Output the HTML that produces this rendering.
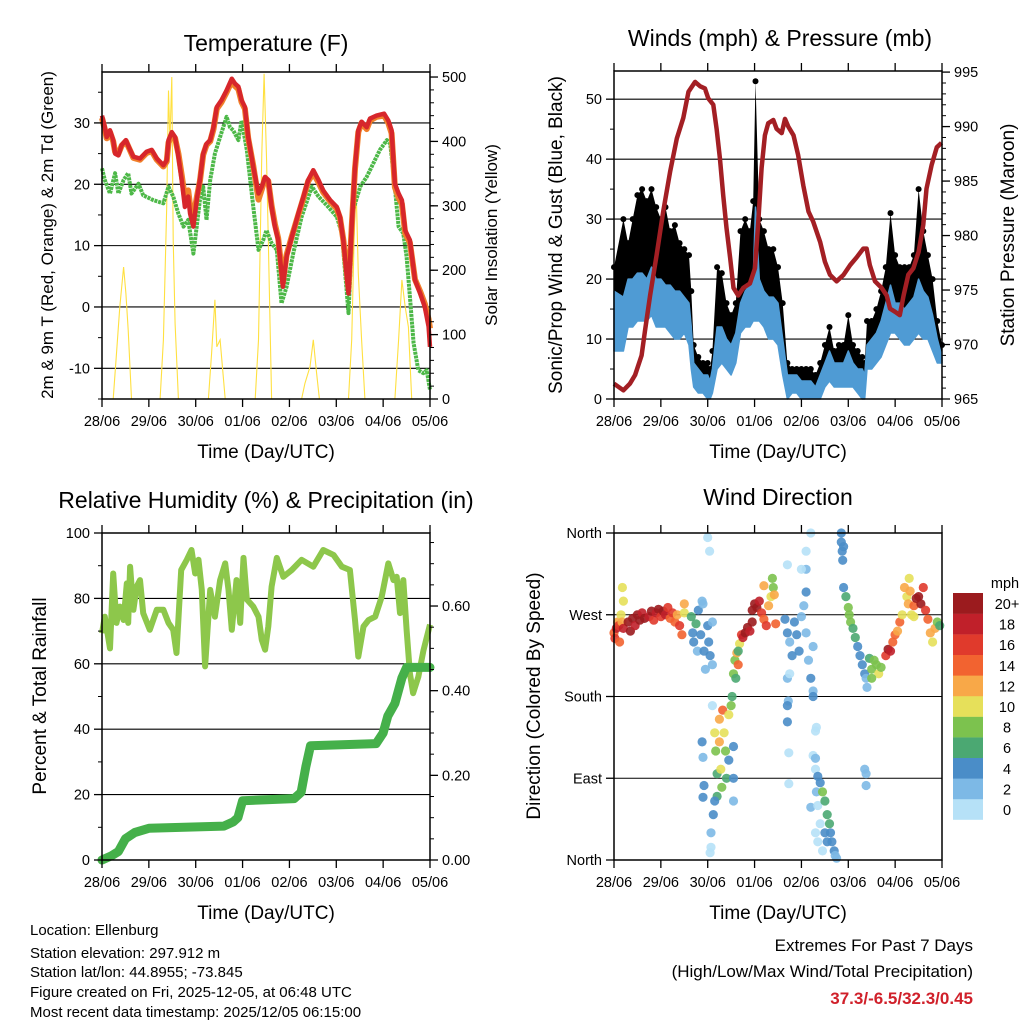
<!DOCTYPE html>
<html><head><meta charset="utf-8"><style>
html,body{margin:0;padding:0;background:#fff;}
svg{display:block;font-family:"Liberation Sans",Arial,sans-serif;}
</style></head><body>
<svg id="chart" width="1024" height="1024" viewBox="0 0 1024 1024" xmlns="http://www.w3.org/2000/svg">
<rect x="0" y="0" width="1024" height="1024" fill="#fff"/>
<g id="g1"></g>
<g id="g2"></g>
<g id="g3"></g>
<g id="g4"></g>
<text x="266" y="51" font-size="23" text-anchor="middle">Temperature (F)</text>
<text x="780" y="46" font-size="23" text-anchor="middle">Winds (mph) &amp; Pressure (mb)</text>
<text x="266" y="508" font-size="23" text-anchor="middle">Relative Humidity (%) &amp; Precipitation (in)</text>
<text x="778" y="505" font-size="23" text-anchor="middle">Wind Direction</text>
<text x="266" y="458" font-size="19" text-anchor="middle">Time (Day/UTC)</text>
<text x="778" y="458" font-size="19" text-anchor="middle">Time (Day/UTC)</text>
<text x="266" y="919" font-size="19" text-anchor="middle">Time (Day/UTC)</text>
<text x="778" y="919" font-size="19" text-anchor="middle">Time (Day/UTC)</text>
<text transform="translate(53,235) rotate(-90)" font-size="17" text-anchor="middle">2m &amp; 9m T (Red, Orange) &amp; 2m Td (Green)</text>
<text transform="translate(497,235) rotate(-90)" font-size="17" text-anchor="middle">Solar Insolation (Yellow)</text>
<text transform="translate(562,235) rotate(-90)" font-size="19" text-anchor="middle">Sonic/Prop Wind &amp; Gust (Blue, Black)</text>
<text transform="translate(1014,235) rotate(-90)" font-size="19" text-anchor="middle">Station Pressure (Maroon)</text>
<text transform="translate(46,696) rotate(-90)" font-size="19" text-anchor="middle">Percent &amp; Total Rainfall</text>
<text transform="translate(540,696) rotate(-90)" font-size="19" text-anchor="middle">Direction (Colored By Speed)</text>
<g font-size="15">
<text x="30" y="935">Location: Ellenburg</text>
<text x="30" y="958">Station elevation: 297.912 m</text>
<text x="30" y="977">Station lat/lon: 44.8955; -73.845</text>
<text x="30" y="997">Figure created on Fri, 2025-12-05, at 06:48 UTC</text>
<text x="30" y="1017">Most recent data timestamp: 2025/12/05 06:15:00</text>
</g>
<text x="973" y="951" font-size="17" text-anchor="end">Extremes For Past 7 Days</text>
<text x="973" y="977" font-size="17" text-anchor="end">(High/Low/Max Wind/Total Precipitation)</text>
<text x="973" y="1004" font-size="17" font-weight="bold" fill="#D0202A" text-anchor="end">37.3/-6.5/32.3/0.45</text>
</svg>
<script>
// ---------- DATA ----------
const dayLabels = ['28/06','29/06','30/06','01/06','02/06','03/06','04/06','05/06'];
const tempDays = [0,0.06,0.1,0.17,0.24,0.28,0.35,0.42,0.51,0.6,0.67,0.81,0.95,1.06,1.17,1.31,1.38,1.42,1.49,1.56,1.63,1.7,1.77,1.84,1.88,1.95,2.02,2.09,2.16,2.23,2.31,2.38,2.45,2.55,2.66,2.77,2.84,2.91,2.98,3.05,3.12,3.23,3.34,3.41,3.48,3.55,3.62,3.69,3.76,3.86,3.94,4.05,4.19,4.3,4.4,4.51,4.62,4.72,4.87,5.01,5.08,5.15,5.26,5.33,5.4,5.47,5.54,5.65,5.72,5.86,6.02,6.11,6.18,6.25,6.33,6.4,6.47,6.57,6.68,6.79,6.89,6.97,7.0];
const temp2m = [31.2,29.3,27.7,28.8,27.2,25.0,24.7,26.4,27.2,25.6,24.5,24.2,25.3,25.6,24.2,23.1,23.9,27.2,28.5,27.7,24.5,20.7,16.3,18.0,15.2,13.1,17.4,20.7,25.0,26.6,27.2,29.3,32.6,33.7,35.3,37.2,36.4,35.9,33.7,32.6,27.7,22.8,18.5,19.6,21.2,20.7,16.3,13.1,10.9,3.3,8.2,11.4,15.2,18.0,20.7,22.3,20.7,19.0,17.4,16.3,14.7,10.9,2.2,13.1,22.8,28.8,30.2,29.3,30.7,31.2,31.5,30.4,28.8,20.1,18.5,17.4,12.5,10.9,4.4,2.2,0.0,-3.2,-6.5];
const temp9m = [30.8,29.0,27.5,28.5,27.0,25.3,25.0,26.3,27.0,25.5,24.3,24.0,25.1,25.4,24.0,22.9,23.7,26.8,28.0,27.5,25.0,21.5,17.8,19.0,16.5,14.5,17.8,20.5,24.8,26.4,27.0,29.0,32.3,33.4,35.0,36.8,36.0,35.5,33.4,32.3,27.5,23.0,17.5,19.2,21.0,20.5,16.5,13.5,11.2,4.0,8.5,11.5,15.0,17.8,20.5,21.8,20.3,18.7,17.2,16.0,14.5,11.0,3.0,13.0,22.5,28.5,30.0,29.0,30.4,31.0,31.2,30.0,28.3,19.5,17.8,16.8,12.0,10.5,4.5,2.5,0.5,-2.0,-3.5];
const dewDays = [0,0.06,0.17,0.28,0.35,0.46,0.56,0.63,0.78,0.88,1.1,1.31,1.42,1.52,1.63,1.74,1.84,1.95,2.02,2.09,2.16,2.23,2.31,2.41,2.52,2.66,2.73,2.8,2.91,2.98,3.09,3.23,3.34,3.44,3.51,3.62,3.73,3.83,3.94,4.08,4.26,4.48,4.62,4.83,5.01,5.12,5.19,5.26,5.36,5.51,5.65,5.79,5.93,6.08,6.15,6.22,6.33,6.43,6.5,6.57,6.65,6.75,6.86,6.93,7.0];
const dew2m = [22.6,20.7,18.5,21.8,18.5,20.7,21.8,18.5,20.1,18.2,17.4,16.9,19.6,18.0,15.2,13.1,14.2,8.7,13.1,17.4,19.6,14.2,20.7,25.0,27.7,31.0,29.3,28.8,27.2,30.4,25.6,16.3,9.3,10.9,12.5,10.4,9.3,0.6,3.3,8.7,14.7,19.6,18.0,16.3,14.7,12.0,5.5,-1.0,15.8,19.6,21.2,23.4,25.6,27.2,26.6,21.8,13.1,12.0,8.2,1.7,-5.9,-10.3,-10.8,-10.3,-13.5];
const solarDays = [0,0.24,0.31,0.38,0.46,0.51,0.56,0.63,1.24,1.31,1.38,1.42,1.45,1.49,1.52,1.56,1.63,2.27,2.34,2.41,2.45,2.52,2.63,3.27,3.34,3.41,3.46,3.51,3.55,3.62,4.26,4.33,4.44,4.51,4.58,4.64,5.26,5.33,5.38,5.42,5.47,5.54,5.61,6.25,6.33,6.4,6.47,6.54,6.61,7.0];
const solarVals = [0,0,71,143,205,164,107,0,0,92,298,479,400,500,247,117,0,0,71,154,81,92,0,0,92,381,505,375,247,0,0,24,50,92,40,0,0,92,247,335,195,92,0,0,92,185,143,112,0,0];
const windDays = [0,0.2,0.3,0.4,0.5,0.6,0.7,0.8,0.9,1.0,1.1,1.2,1.3,1.4,1.5,1.6,1.65,1.7,1.8,1.9,2.0,2.05,2.1,2.2,2.3,2.4,2.5,2.6,2.7,2.8,2.9,2.97,3.02,3.1,3.2,3.3,3.4,3.5,3.6,3.7,3.8,3.9,4.0,4.1,4.2,4.3,4.4,4.5,4.6,4.7,4.8,4.9,5.0,5.1,5.2,5.3,5.35,5.4,5.5,5.6,5.7,5.8,5.9,6.0,6.1,6.2,6.3,6.4,6.5,6.6,6.7,6.8,6.9,7.0];
const gustVals = [22,30,26,30,34,35,33,35,32,30,32,28,29,26,25,24,18,9,7,6,6,5,8,22,21,16,14,16,28,30,28,33,53,30,28,25,25,22,16,6,5,5,5,5,5,4,6,9,12,8,9,9,14,9,8,7,6,13,13,15,18,22,31,24,22,22,22,24,35,28,24,20,13,9];
const windHigh = [18,17,20,20,21,21,20,22,20,20,19,19,18,18,17,16,12,6,5,4,4,3,5,12,12,10,9,11,16,18,19,20,32,20,18,17,17,16,10,4,4,4,3,3,3,2,4,6,8,6,6,6,8,6,5,5,4,9,10,11,13,16,19,16,16,15,16,17,20,18,17,14,10,7];
const windLow = [8,8,12,12,13,13,13,14,12,12,12,11,10,10,11,9,5,2,1,1,0,0,1,5,6,5,4,6,11,12,12,13,13,13,12,10,10,9,4,0,1,1,0,0,0,0,0,2,3,2,2,2,2,2,1,0,0,5,5,6,7,9,11,11,10,9,9,10,11,10,10,8,6,6];
const presDays = [0,0.2,0.34,0.45,0.59,0.66,0.77,0.91,1.05,1.2,1.34,1.48,1.59,1.73,1.84,1.94,2.01,2.12,2.19,2.26,2.33,2.4,2.48,2.55,2.65,2.76,2.9,3.01,3.08,3.15,3.22,3.29,3.4,3.47,3.58,3.65,3.72,3.83,3.93,4.04,4.15,4.25,4.4,4.5,4.61,4.75,4.9,5.04,5.18,5.32,5.39,5.46,5.57,5.71,5.82,5.89,6.0,6.1,6.18,6.28,6.39,6.5,6.6,6.67,6.78,6.89,6.99];
const presVals = [966.4,965.8,966.4,967.2,969.0,971.2,974.5,978.2,982.2,985.9,988.9,990.8,993.2,994.1,993.7,993.5,992.6,992.0,989.8,987.1,983.7,980.7,977.9,975.2,974.5,975.2,975.6,977.0,981.3,986.2,989.2,990.3,990.6,989.8,989.4,990.7,990.0,989.2,987.4,984.6,982.2,981.3,979.4,977.6,976.4,975.8,976.4,977.3,978.0,978.8,978.8,977.3,975.8,975.2,974.5,973.3,973.0,972.7,974.5,976.4,977.0,978.5,981.0,984.3,986.5,988.1,988.5];
const rhDays = [0,0.06,0.17,0.24,0.31,0.38,0.46,0.53,0.56,0.6,0.67,0.74,0.81,0.88,1.02,1.17,1.31,1.42,1.52,1.59,1.69,1.81,1.91,1.99,2.06,2.13,2.2,2.31,2.41,2.52,2.63,2.7,2.77,2.87,2.95,3.02,3.09,3.23,3.34,3.41,3.48,3.55,3.62,3.73,3.87,4.05,4.26,4.51,4.72,4.94,5.12,5.29,5.4,5.47,5.58,5.69,5.83,5.97,6.11,6.22,6.29,6.36,6.43,6.5,6.57,6.64,6.75,6.86,6.93,7.0];
const rhVals = [69.4,74.4,64.7,87.6,72.5,77.5,73.4,84.6,72.5,89.7,76.5,83.6,85.6,75.5,70.4,76.5,76.5,72.5,70.4,63.3,88.7,91.8,94.8,87.6,91.8,82.6,59.2,82.6,74.4,85.6,90.7,82.6,70.4,85.6,72.5,92.4,79.7,77.5,74.4,67.3,64.3,71.4,83.6,92.4,86.6,88.7,91.8,89.7,94.8,93.3,89.7,88.7,73.4,62.2,71.4,73.4,74.4,80.5,90.7,85.6,86.6,75.5,85.6,70.4,57.1,51,56,64,68,72];
const precipDays = [0,0.2,0.35,0.5,0.7,1.0,2.6,2.8,2.9,3.0,4.1,4.25,4.35,4.45,5.85,6.0,6.1,6.25,6.4,6.5,7.0];
const precipVals = [0,0.01,0.02,0.05,0.065,0.075,0.08,0.09,0.1,0.14,0.145,0.16,0.22,0.27,0.275,0.3,0.34,0.37,0.43,0.455,0.455];
const dirDays = [0,0.02,0.05,0.08,0.1,0.12,0.15,0.17,0.2,0.18,0.2,0.3,0.35,0.4,0.45,0.5,0.55,0.6,0.65,0.75,0.8,0.85,0.9,0.95,1.0,1.05,1.1,1.15,1.2,1.25,1.3,1.35,1.4,1.45,1.5,1.5,
1.65,1.68,1.7,1.75,1.78,1.8,1.85,1.9,1.92,1.95,2.0,2.02,2.05,2.1,2.1,1.88,2.0,2.04,
1.88,1.9,1.92,1.9,2.07,2.07,2.05,2.1,2.15,2.17,2.2,2.2,2.15,2.12,2.25,2.25,2.28,2.3,2.32,2.35,2.38,2.4,2.45,2.45,2.5,2.52,2.55,2.55,2.55,
2.55,2.58,2.62,2.65,2.68,2.72,2.75,2.8,2.85,2.9,2.95,2.6,2.65,
2.95,3.0,3.05,3.1,3.15,3.2,3.25,3.3,3.35,3.38,3.4,3.42,3.45,3.2,
3.65,3.7,3.75,3.8,3.85,3.9,3.95,4.0,4.05,4.1,4.15,4.2,4.25,3.7,3.72,3.75,4.1,4.1,3.7,4.0,4.1,4.2,
3.7,3.7,3.73,3.73,4.25,4.25,4.3,4.32,4.2,
4.25,4.3,4.3,4.35,4.4,4.32,4.35,4.4,4.3,4.35,4.45,4.5,4.55,4.6,4.5,4.62,4.65,4.7,4.72,4.75,4.55,4.45,
4.85,4.85,4.87,4.88,4.9,
4.9,4.95,5.0,5.02,5.05,5.1,5.15,5.2,5.25,5.3,5.35,5.38,5.4,5.45,5.5,5.55,5.6,5.65,5.7,5.5,5.35,5.38,5.38,
5.8,5.85,5.9,5.95,6.0,6.05,6.1,6.15,6.2,6.25,6.28,6.3,6.32,6.35,6.4,6.45,6.5,6.55,6.6,6.65,6.7,6.75,6.8,6.85,6.9,6.95,6.4];
const dirVals = [250,244,255,262,258,240,270,262,255,300,285,262,252,266,258,270,264,272,266,268,274,264,272,276,268,274,270,278,266,272,262,270,258,248,272,282,
268,250,240,260,230,275,248,282,230,210,258,240,225,215,262,285,355,340,
130,113,82,69,30,14,8,170,140,120,95,70,65,50,130,155,100,80,165,140,120,90,160,110,170,180,90,125,65,
205,220,228,215,238,248,245,250,256,252,262,200,230,
275,282,278,285,272,265,258,280,290,310,300,292,260,302,
265,250,240,225,262,248,230,268,280,250,220,200,235,200,175,205,295,320,325,320,340,360,
170,152,118,84,186,180,142,146,58,
115,112,100,92,85,75,60,40,30,20,75,65,50,40,30,30,20,10,5,2,20,10,
360,350,340,330,345,
300,290,278,270,262,255,245,235,225,215,205,200,190,222,210,220,215,205,212,200,100,95,82,
225,232,230,240,248,252,262,270,300,290,282,310,296,270,280,288,290,282,300,275,265,250,240,255,262,258,268];
const dirSpeeds = [14,16,18,12,16,14,10,12,18,10,10,20,20,20,18,20,20,18,20,18,20,16,18,20,16,20,18,16,14,16,14,12,16,14,10,12,
6,4,4,6,2,4,4,2,4,2,4,4,4,2,2,2,0,0,
4,2,4,4,2,0,0,0,10,8,6,6,4,4,12,12,10,8,14,10,8,6,10,4,8,6,4,4,2,
8,8,12,14,10,16,18,20,20,18,20,6,6,
20,20,20,18,16,14,16,12,10,8,8,12,14,12,
4,4,2,4,4,4,4,2,2,2,2,4,2,2,2,0,4,2,0,0,0,0,
4,4,0,0,2,4,0,0,2,
0,2,0,4,4,2,0,0,0,0,8,6,6,6,4,4,4,4,2,2,4,0,
4,4,4,4,4,
4,6,8,8,8,6,6,4,4,4,4,2,2,6,8,8,8,10,8,8,2,2,2,
16,20,18,14,14,12,14,10,12,10,12,10,12,10,14,20,20,20,16,16,14,12,10,12,8,6,10];
const speedLabels = ['0','2','4','6','8','10','12','14','16','18','20+'];
const speedColors = ['#B6E1F7','#7DB9E6','#4A8DC8','#4BA872','#7CC24E','#E6E05A','#F8A848','#F26330','#E03A2C','#C0202A','#9B1B1E'];

// ---------- HELPERS ----------
const NS = 'http://www.w3.org/2000/svg';
function mk(parent, tag, attrs, text){
  const e = document.createElementNS(NS, tag);
  for (const k in attrs) e.setAttribute(k, attrs[k]);
  if (text !== undefined) e.textContent = text;
  parent.appendChild(e);
  return e;
}
function lin(d0,d1,r0,r1){ return v => r0 + (v-d0)*(r1-r0)/(d1-d0); }
function pts(xs, ys, sx, sy){ return xs.map((d,i)=>sx(d).toFixed(1)+','+sy(ys[i]).toFixed(1)).join(' '); }

function frame(g, x0, x1, yT, yB, sx, name){
  for (let i=0;i<8;i++){
    const x = sx(i);
    const t1 = mk(g,'line',{x1:x,x2:x,y1:yB,y2:yB+8,stroke:'#000','stroke-width':1.3});
    
    
    const t2 = mk(g,'line',{x1:x,x2:x,y1:yT,y2:yT-8,stroke:'#000','stroke-width':1.3});
    
    
    const lb = mk(g,'text',{x:x,y:yB+27,'font-size':14.5,'text-anchor':'middle'}, dayLabels[i]);
    
    
  }
  const r = mk(g,'rect',{x:x0,y:yT,width:x1-x0,height:yB-yT,fill:'none',stroke:'#000','stroke-width':1.5});
  
  
}
function yaxis(g, side, x, sy, majors, labels, minors, name){
  const dir = side==='left' ? -1 : 1;
  minors.forEach(v=>{
    const t = mk(g,'line',{x1:x,x2:x+dir*4,y1:sy(v),y2:sy(v),stroke:'#000','stroke-width':1});
    
    
  });
  majors.forEach((v,i)=>{
    const t = mk(g,'line',{x1:x,x2:x+dir*8,y1:sy(v),y2:sy(v),stroke:'#000','stroke-width':1.3});
    
    
    const lb = mk(g,'text',{x:x+dir*12,y:sy(v)+5,'font-size':14.5,'text-anchor':side==='left'?'end':'start'}, labels[i]);
    
    
  });
}
function grid(g, x0, x1, sy, vals, name){
  vals.forEach(v=>{
    const l = mk(g,'line',{x1:x0,x2:x1,y1:sy(v),y2:sy(v),stroke:'#000','stroke-width':1.1});
    
    
  });
}
function range(a,b,s){ const r=[]; for(let v=a; v<=b+1e-9; v+=s) r.push(+v.toFixed(4)); return r; }

// ---------- PANEL 1: TEMPERATURE ----------
(function(){
  const g = document.getElementById('g1');
  const sx = lin(0,7,102,430), sy = lin(-15,38.3,399,72), ss = lin(0,507.8,399,72);
  grid(g,102,430,sy,[-10,0,10,20,30],'temp');
  const sol = mk(g,'polyline',{points:pts(solarDays,solarVals,sx,ss),fill:'none',stroke:'#FFE040','stroke-width':1.1});
  
  
  const dw = mk(g,'polyline',{points:pts(dewDays,dew2m,sx,sy),fill:'none',stroke:'#4DB848','stroke-width':4,'stroke-dasharray':'3 0.8','stroke-linejoin':'round'});
  
  
  const t9 = mk(g,'polyline',{points:pts(tempDays,temp9m,sx,sy),fill:'none',stroke:'#F07F2A','stroke-width':6,'stroke-linejoin':'round'});
  
  
  const t2 = mk(g,'polyline',{points:pts(tempDays,temp2m,sx,sy),fill:'none',stroke:'#D7262B','stroke-width':4.5,'stroke-linejoin':'round'});
  
  
  frame(g,102,430,72,399,sx,'temp');
  yaxis(g,'left',102,sy,[-10,0,10,20,30],['-10','0','10','20','30'],[-15,-5,5,15,25,35],'temp-y');
  yaxis(g,'right',430,ss,[0,100,200,300,400,500],['0','100','200','300','400','500'],range(20,500,20),'solar-y');
})();

// ---------- PANEL 2: WINDS ----------
(function(){
  const g = document.getElementById('g2');
  const sx = lin(0,7,614,942), sy = lin(0,54.7,399,71), sp = lin(965,995.1,399,71);
  grid(g,614,942,sy,[10,20,30,40,50],'wind');
  const gustPoly = pts(windDays,gustVals,sx,sy)+' '+pts(windDays.slice().reverse(),windHigh.slice().reverse(),sx,sy);
  const gp = mk(g,'polygon',{points:gustPoly,fill:'#000',stroke:'none'});
  
  
  windDays.forEach((d,i)=>{
    const c = mk(g,'circle',{cx:sx(d).toFixed(1),cy:sy(gustVals[i]).toFixed(1),r:3,fill:'#000'});
    
    
  });
  const windPoly = pts(windDays,windHigh,sx,sy)+' '+pts(windDays.slice().reverse(),windLow.slice().reverse(),sx,sy);
  const wp = mk(g,'polygon',{points:windPoly,fill:'#4F9BD4',stroke:'#4F9BD4','stroke-width':1.5,'stroke-linejoin':'round'});
  
  
  const pl = mk(g,'polyline',{points:pts(presDays,presVals,sx,sp),fill:'none',stroke:'#A31F24','stroke-width':4.5,'stroke-linejoin':'round'});
  
  
  frame(g,614,942,71,399,sx,'wind');
  yaxis(g,'left',614,sy,[0,10,20,30,40,50],['0','10','20','30','40','50'],[5,15,25,35,45],'wind-y');
  yaxis(g,'right',942,sp,[965,970,975,980,985,990,995],['965','970','975','980','985','990','995'],range(966,994,1),'pressure-y');
})();

// ---------- PANEL 3: HUMIDITY ----------
(function(){
  const g = document.getElementById('g3');
  const sx = lin(0,7,102,430), sy = lin(0,100,860,533), sp = lin(0,0.7725,860,533);
  grid(g,102,430,sy,[20,40,60,80],'rh');
  const rl = mk(g,'polyline',{points:pts(rhDays,rhVals,sx,sy),fill:'none',stroke:'#8DC74B','stroke-width':6,'stroke-linejoin':'round'});
  
  
  const pr = mk(g,'polyline',{points:pts(precipDays,precipVals,sx,sp),fill:'none',stroke:'#45B04A','stroke-width':9,'stroke-linejoin':'round','stroke-linecap':'round'});
  
  
  frame(g,102,430,533,860,sx,'rh');
  yaxis(g,'left',102,sy,[0,20,40,60,80,100],['0','20','40','60','80','100'],[10,30,50,70,90],'rh-y');
  yaxis(g,'right',430,sp,[0,0.2,0.4,0.6],['0.00','0.20','0.40','0.60'],[0.05,0.1,0.15,0.25,0.3,0.35,0.45,0.5,0.55,0.65,0.7,0.75],'precip-y');
})();

// ---------- PANEL 4: WIND DIRECTION ----------
(function(){
  const g = document.getElementById('g4');
  const sx = lin(0,7,614,942), sy = lin(0,360,860,533);
  grid(g,614,942,sy,[90,180,270],'dir');
  dirDays.forEach((d,i)=>{
    const idx = Math.min(10, Math.floor(dirSpeeds[i]/2));
    const c = mk(g,'circle',{cx:sx(d).toFixed(1),cy:sy(dirVals[i]).toFixed(1),r:4.6,fill:speedColors[idx],'fill-opacity':0.9});
    
    
  });
  frame(g,614,942,533,860,sx,'dir');
  yaxis(g,'left',614,sy,[0,90,180,270,360],['North','East','South','West','North'],[],'dir-y');
  const mph = mk(g,'text',{x:1005,y:588,'font-size':14.5,'text-anchor':'middle'},'mph');
  
  
  speedColors.forEach((col,i)=>{
    const y = 593 + (10-i)*20.6;
    const b = mk(g,'rect',{x:953,y:y,width:30,height:20.8,fill:col});
    
    
    const t = mk(g,'text',{x:1007,y:y+16,'font-size':14.5,'text-anchor':'middle'},speedLabels[i]);
    
    
  });
})();
</script>
</body></html>
